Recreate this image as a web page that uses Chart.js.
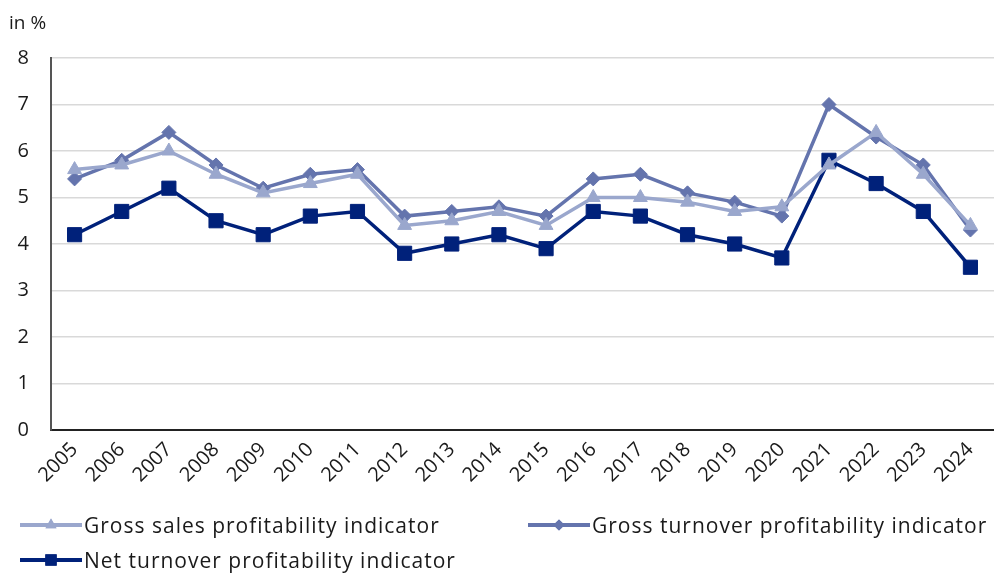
<!DOCTYPE html>
<html>
<head>
<meta charset="utf-8">
<script src="https://cdn.jsdelivr.net/npm/chart.js@4.4.1/dist/chart.umd.min.js"></script>
<style>
    html, body { margin: 0; padding: 0; background: #fff; }
    #wrap { position: relative; width: 994px; height: 573px; overflow: hidden; font-family: 'Open Sans', sans-serif; color: #1a1a1a; }
    #unit { position: absolute; left: 9px; top: 9px; font-size: 19px; }
    #legend { position: absolute; left: 20px; top: 511px; width: 974px; font-size: 21px; letter-spacing: 1px; }
    .item { position: absolute; display: flex; align-items: center; white-space: nowrap; }
    .item canvas { margin-right: 2px; }
</style>
</head>
<body>
<div id="wrap">
    <canvas id="profitChart" width="994" height="573"></canvas>
    <div id="unit">in %</div>
    <div id="legend"></div>
</div>
<script>
const years = ['2005', '2006', '2007', '2008', '2009', '2010', '2011', '2012', '2013', '2014',
               '2015', '2016', '2017', '2018', '2019', '2020', '2021', '2022', '2023', '2024'];
const grossSales = [5.6, 5.7, 6.0, 5.5, 5.1, 5.3, 5.5, 4.4, 4.5, 4.7, 4.4, 5.0, 5.0, 4.9, 4.7, 4.8, 5.7, 6.4, 5.5, 4.4];
const grossTurnover = [5.4, 5.8, 6.4, 5.7, 5.2, 5.5, 5.6, 4.6, 4.7, 4.8, 4.6, 5.4, 5.5, 5.1, 4.9, 4.6, 7.0, 6.3, 5.7, 4.3];
const netTurnover = [4.2, 4.7, 5.2, 4.5, 4.2, 4.6, 4.7, 3.8, 4.0, 4.2, 3.9, 4.7, 4.6, 4.2, 4.0, 3.7, 5.8, 5.3, 4.7, 3.5];
const yTicks = [0, 1, 2, 3, 4, 5, 6, 7, 8];

const seriesDefs = [
    { label: 'Gross sales profitability indicator', data: grossSales, color: '#9aa7cd', style: 'triangle', radius: 8, legendPos: [0, 0] },
    { label: 'Gross turnover profitability indicator', data: grossTurnover, color: '#6474ad', style: 'rectRot', radius: 7, legendPos: [508, 0] },
    { label: 'Net turnover profitability indicator', data: netTurnover, color: '#00217a', style: 'rect', radius: 10, legendPos: [0, 35] }
];

const font = { family: "'Open Sans', sans-serif", size: 20 };

const ctx = document.getElementById('profitChart');
const chart = new Chart(ctx, {
    type: 'line',
    data: {
        labels: years,
        datasets: seriesDefs.map(s => ({
            label: s.label,
            data: s.data,
            borderColor: s.color,
            backgroundColor: s.color,
            borderWidth: 3.5,
            pointStyle: s.style,
            pointRadius: s.radius,
            pointBorderWidth: 1,
            tension: 0,
            fill: false,
            clip: false
        }))
    },
    options: {
        responsive: false,
        animation: false,
        layout: { autoPadding: false, padding: { top: 58, right: 0, left: 0, bottom: 0 } },
        plugins: {
            legend: { display: false },
            tooltip: { enabled: false }
        },
        scales: {
            x: {
                offset: true,
                grid: { display: false, drawTicks: false },
                border: { display: true, color: '#222', width: 2 },
                ticks: {
                    color: '#1a1a1a',
                    font: font,
                    maxRotation: 45,
                    minRotation: 45,
                    padding: 8,
                    autoSkip: false
                },
                afterFit: function(scale) {
                    scale.height = 143;
                    scale.paddingLeft = 0;
                    scale.paddingRight = 0;
                }
            },
            y: {
                min: 0,
                max: 8,
                afterBuildTicks: function(scale) { scale.ticks = yTicks.map(v => ({ value: v })); },
                grid: { color: '#d9d9d9', lineWidth: 1.5, drawTicks: false },
                border: { display: true, color: '#555', width: 2 },
                ticks: { color: '#1a1a1a', font: font, padding: 22 },
                afterFit: function(scale) {
                    scale.width = 51;
                    scale.paddingTop = 0;
                    scale.paddingBottom = 0;
                }
            }
        }
    }
});

// legend: line with marker in the middle, followed by the label
const legend = document.getElementById('legend');
seriesDefs.forEach(s => {
    const item = document.createElement('div');
    item.className = 'item';
    item.style.left = s.legendPos[0] + 'px';
    item.style.top = s.legendPos[1] + 'px';
    const icon = document.createElement('canvas');
    icon.width = 62;
    icon.height = 24;
    const ic = icon.getContext('2d');
    ic.strokeStyle = s.color;
    ic.lineWidth = 4;
    ic.beginPath();
    ic.moveTo(0, 12);
    ic.lineTo(62, 12);
    ic.stroke();
    ic.fillStyle = s.color;
    Chart.helpers.drawPoint(ic, { pointStyle: s.style, radius: s.radius * 0.8, borderWidth: 0 }, 31, 12);
    ic.fill();
    const txt = document.createElement('span');
    txt.textContent = s.label;
    item.appendChild(icon);
    item.appendChild(txt);
    legend.appendChild(item);
});
</script>
</body>
</html>
